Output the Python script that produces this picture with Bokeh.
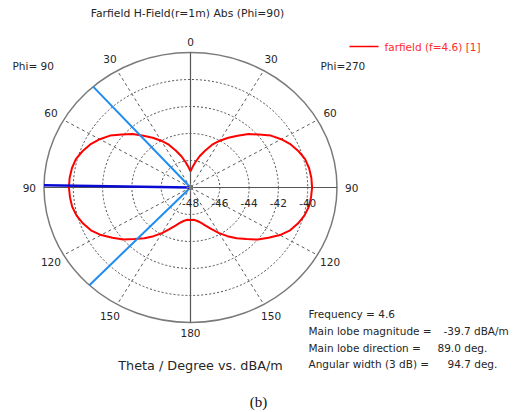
from bokeh.plotting import figure
from bokeh.models import Range1d, Label
from bokeh.embed import file_html
from bokeh.resources import INLINE
import numpy as np

# ---- data -------------------------------------------------------------
theta_deg = [0, 5, 10, 15, 20, 25, 30, 35, 40, 45, 50, 55, 60, 65, 70, 75, 80, 85,
             90, 95, 100, 105, 110, 115, 120, 125, 130, 135, 140, 145, 150, 155,
             160, 165, 170, 175, 180]
h_field_db = [-46.8, -46.5, -46.1, -45.6, -45.1, -44.5, -44.0, -43.5, -43.0, -42.4,
              -41.9, -41.3, -40.85, -40.45, -40.15, -39.9, -39.78, -39.72,
              -39.7, -39.74, -39.8, -39.95, -40.2, -40.5, -40.95, -41.5, -42.0,
              -42.6, -43.1, -43.6, -44.1, -44.6, -45.0, -45.3, -45.5, -45.6, -45.6]
ring_db = [-48, -46, -44, -42, -40]
db_min, db_max = -48, -38
angle_ticks = [0, 30, 60, 90, 120, 150, 180]
main_lobe_dir = 89.0
main_lobe_mag = -39.7
beam_width = 94.7
frequency = 4.6

# ---- layout -----------------------------------------------------------
W, H = 531, 412
CX, CY = 190, 187          # pole position in pixels (from top-left)
SX, SY = 14.65, 13.5       # pixels per dB horizontally / vertically

p = figure(width=W, height=H, output_backend="svg", toolbar_location=None,
           x_range=Range1d(-CX / SX, (W - CX) / SX),
           y_range=Range1d(-(H - CY) / SY, CY / SY),
           min_border=0, outline_line_color=None, background_fill_color="white")
p.axis.visible = False
p.grid.visible = False

R = db_max - db_min
FONT = "DejaVu Sans"
TXT = "#262626"


def pos(px, py):
    return (px - CX) / SX, (CY - py) / SY


def polar(theta, r, side=1):
    t = np.radians(theta)
    return side * r * np.sin(t), r * np.cos(t)


def label(text, px, py, size="10.5px", align="left", color=TXT, font=FONT, baseline="middle"):
    x, y = pos(px, py)
    p.add_layout(Label(x=x, y=y, text=text, text_font=font, text_font_size=size,
                       text_color=color, text_align=align, text_baseline=baseline))


# rings (dotted) and outer boundary
for db in ring_db[1:]:
    r = db - db_min
    p.ellipse(x=0, y=0, width=2 * r, height=2 * r, fill_color=None,
              line_color="#4d4d4d", line_dash="2 2", line_width=1)
p.ellipse(x=0, y=0, width=2 * R, height=2 * R, fill_color=None,
          line_color="#7a7a7a", line_width=1.5)

# angular spokes (dashed) on both halves
for a in [30, 60, 120, 150]:
    for side in (1, -1):
        ex, ey = polar(a, R, side)
        p.line([0, ex], [0, ey], line_color="#5a5a5a", line_dash="3 3", line_width=1)

# main axes
p.line([0, 0], [-R, R], line_color="#555555", line_width=1.2)
p.line([-R, R], [0, 0], line_color="#555555", line_width=1.2)

# pattern: right half Phi=270, left half Phi=90 (symmetric cut)
r_vals = np.array(h_field_db) - db_min
th = np.array(theta_deg)
xr, yr = polar(th, r_vals, 1)
xl, yl = polar(th[::-1], r_vals[::-1], -1)
p.line(np.concatenate([xr, xl]), np.concatenate([yr, yl]),
       line_color="#ff0000", line_width=2)

# 3 dB beam edges and main lobe direction on the Phi=90 side
for edge in (main_lobe_dir - beam_width / 2, main_lobe_dir + beam_width / 2):
    ex, ey = polar(edge, R, -1)
    p.line([0, ex], [0, ey], line_color="#1e8cf0", line_width=2)
mx, my = polar(main_lobe_dir, R, -1)
p.line([0, mx], [0, my], line_color="#0a0ad2", line_width=2.5)
p.scatter([0], [0], marker="asterisk", size=8, line_color="#777777", line_width=1)

# angle labels
for a in angle_ticks:
    sides = (1,) if a in (0, 180) else (1, -1)
    for side in sides:
        rr = 10.75 if a in (0, 180) else 11.0
        x, y = polar(a, rr, side)
        p.add_layout(Label(x=x, y=y, text=str(a), text_font=FONT, text_font_size="10.5px",
                           text_color=TXT, text_align="center", text_baseline="middle"))

# ring value labels along the horizontal axis
for db in ring_db:
    x = db - db_min
    p.add_layout(Label(x=x, y=-15 / SY, text=str(db), text_font=FONT, text_font_size="10.5px",
                       text_color=TXT, text_align="center", text_baseline="middle"))

# titles and annotations
label("Farfield H-Field(r=1m) Abs (Phi=90)", 187, 13, size="10.8px", align="center")
label("Phi= 90", 12, 65)
label("Phi=270", 320, 65)
label("Theta / Degree vs. dBA/m", 200, 365, size="12.8px", align="center")

# legend
lx0, ly = pos(349, 46)
lx1, _ = pos(378, 46)
p.line([lx0, lx1], [ly, ly], line_color="#ff0000", line_width=1.5)
label("farfield (f=%.1f) [1]" % frequency, 384, 46, color="#ff2a2a")

# result summary
label("Frequency = %.1f" % frequency, 308, 313)
label("Main lobe magnitude =", 308, 330)
label("%.1f dBA/m" % main_lobe_mag, 443, 330)
label("Main lobe direction =", 308, 347)
label("%.1f deg." % main_lobe_dir, 437, 347)
label("Angular width (3 dB) =", 308, 363)
label("%.1f deg." % beam_width, 447, 363)

# panel tag
label("(b)", 258, 401, size="15px", align="center", font="Liberation Serif", color="#111111")

open("out.html", "w").write(file_html(p, INLINE))
